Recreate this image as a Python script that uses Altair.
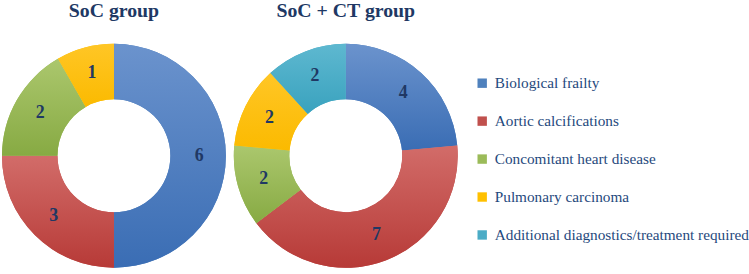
import altair as alt
import pandas as pd
import math

categories = [
    "Biological frailty",
    "Aortic calcifications",
    "Concomitant heart disease",
    "Pulmonary carcinoma",
    "Additional diagnostics/treatment required",
]
soc_values = [6, 3, 2, 1, 0]
soc_ct_values = [4, 7, 2, 2, 2]
groups = ["SoC group", "SoC + CT group"]

colors = ["#4F81BD", "#C0504D", "#9BBB59", "#FFC000", "#4BACC6"]
grad_top = ["#6B93CD", "#D26C69", "#ABC76D", "#FFC626", "#5EB8D0"]
grad_bot = ["#3A6DB4", "#B73A37", "#87AA43", "#FBBA00", "#39A2BE"]

rows = []
for g, vals in zip(groups, [soc_values, soc_ct_values]):
    for i, (c, v) in enumerate(zip(categories, vals)):
        rows.append({"group": g, "category": c, "value": v, "order": i})
df = pd.DataFrame(rows)

TITLE_COLOR = "#203864"
FONT = "'Liberation Serif', 'Times New Roman', serif"
W = 228
OUTER = 113
INNER = 57
TWO_PI = 2 * math.pi


def base(group):
    return (
        alt.Chart(df)
        .transform_filter(alt.datum.group == group)
        .transform_joinaggregate(total="sum(value)")
        .transform_window(cum="sum(value)", sort=[alt.SortField("order")], frame=[None, 0])
        .transform_calculate(
            a0=f"(datum.cum - datum.value) / datum.total * {TWO_PI}",
            a1=f"datum.cum / datum.total * {TWO_PI}",
            amid=f"(datum.cum - datum.value / 2) / datum.total * {TWO_PI}",
        )
    )


def panel(group):
    legend = alt.Legend(
        title="",
        orient="none",
        legendX=478,
        legendY=33,
        symbolType="square",
        symbolSize=90,
        symbolStrokeWidth=0,
        labelFont=FONT,
        labelFontSize=15.4,
        labelColor="#1F497D",
        labelOffset=5,
        rowPadding=21.3,
        padding=0,
        labelLimit=400,
    )
    solid = base(group).mark_arc(outerRadius=OUTER, innerRadius=INNER).encode(
        theta=alt.Theta("a0:Q", scale=None),
        theta2="a1:Q",
        color=alt.Color(
            "category:N",
            scale=alt.Scale(domain=categories, range=colors),
            sort=categories,
            legend=legend,
        ),
    )
    layers = [solid]
    for i, cat in enumerate(categories):
        grad = alt.LinearGradient(
            gradient="linear",
            stops=[
                alt.GradientStop(color=grad_top[i], offset=0),
                alt.GradientStop(color=grad_bot[i], offset=1),
            ],
            x1=0, x2=0, y1=0, y2=1,
        )
        layers.append(
            base(group)
            .transform_filter(alt.datum.category == cat)
            .transform_filter(alt.datum.value > 0)
            .mark_arc(outerRadius=OUTER, innerRadius=INNER, fill=grad)
            .encode(theta=alt.Theta("a0:Q", scale=None), theta2="a1:Q")
        )
    labels = base(group).transform_filter(alt.datum.value > 0).mark_text(
        font=FONT, fontSize=18, fontWeight="bold", color=TITLE_COLOR
    ).encode(
        theta=alt.Theta("amid:Q", scale=None),
        radius=alt.value(86),
        text="value:Q",
    )
    layers.append(labels)
    return alt.layer(*layers).properties(
        width=W,
        height=W,
        title=alt.TitleParams(
            text=group,
            font=FONT,
            fontSize=20,
            fontWeight="bold",
            color=TITLE_COLOR,
            anchor="middle",
            offset=22,
        ),
    )


chart = (
    alt.hconcat(panel(groups[0]), panel(groups[1]), spacing=6)
    .resolve_scale(color="shared")
    .properties(padding={"left": 1, "top": 0, "right": 0, "bottom": 0}, background="white")
    .configure_view(stroke=None)
)

chart.save("out.html", embed_options={"renderer": "svg", "actions": False})
